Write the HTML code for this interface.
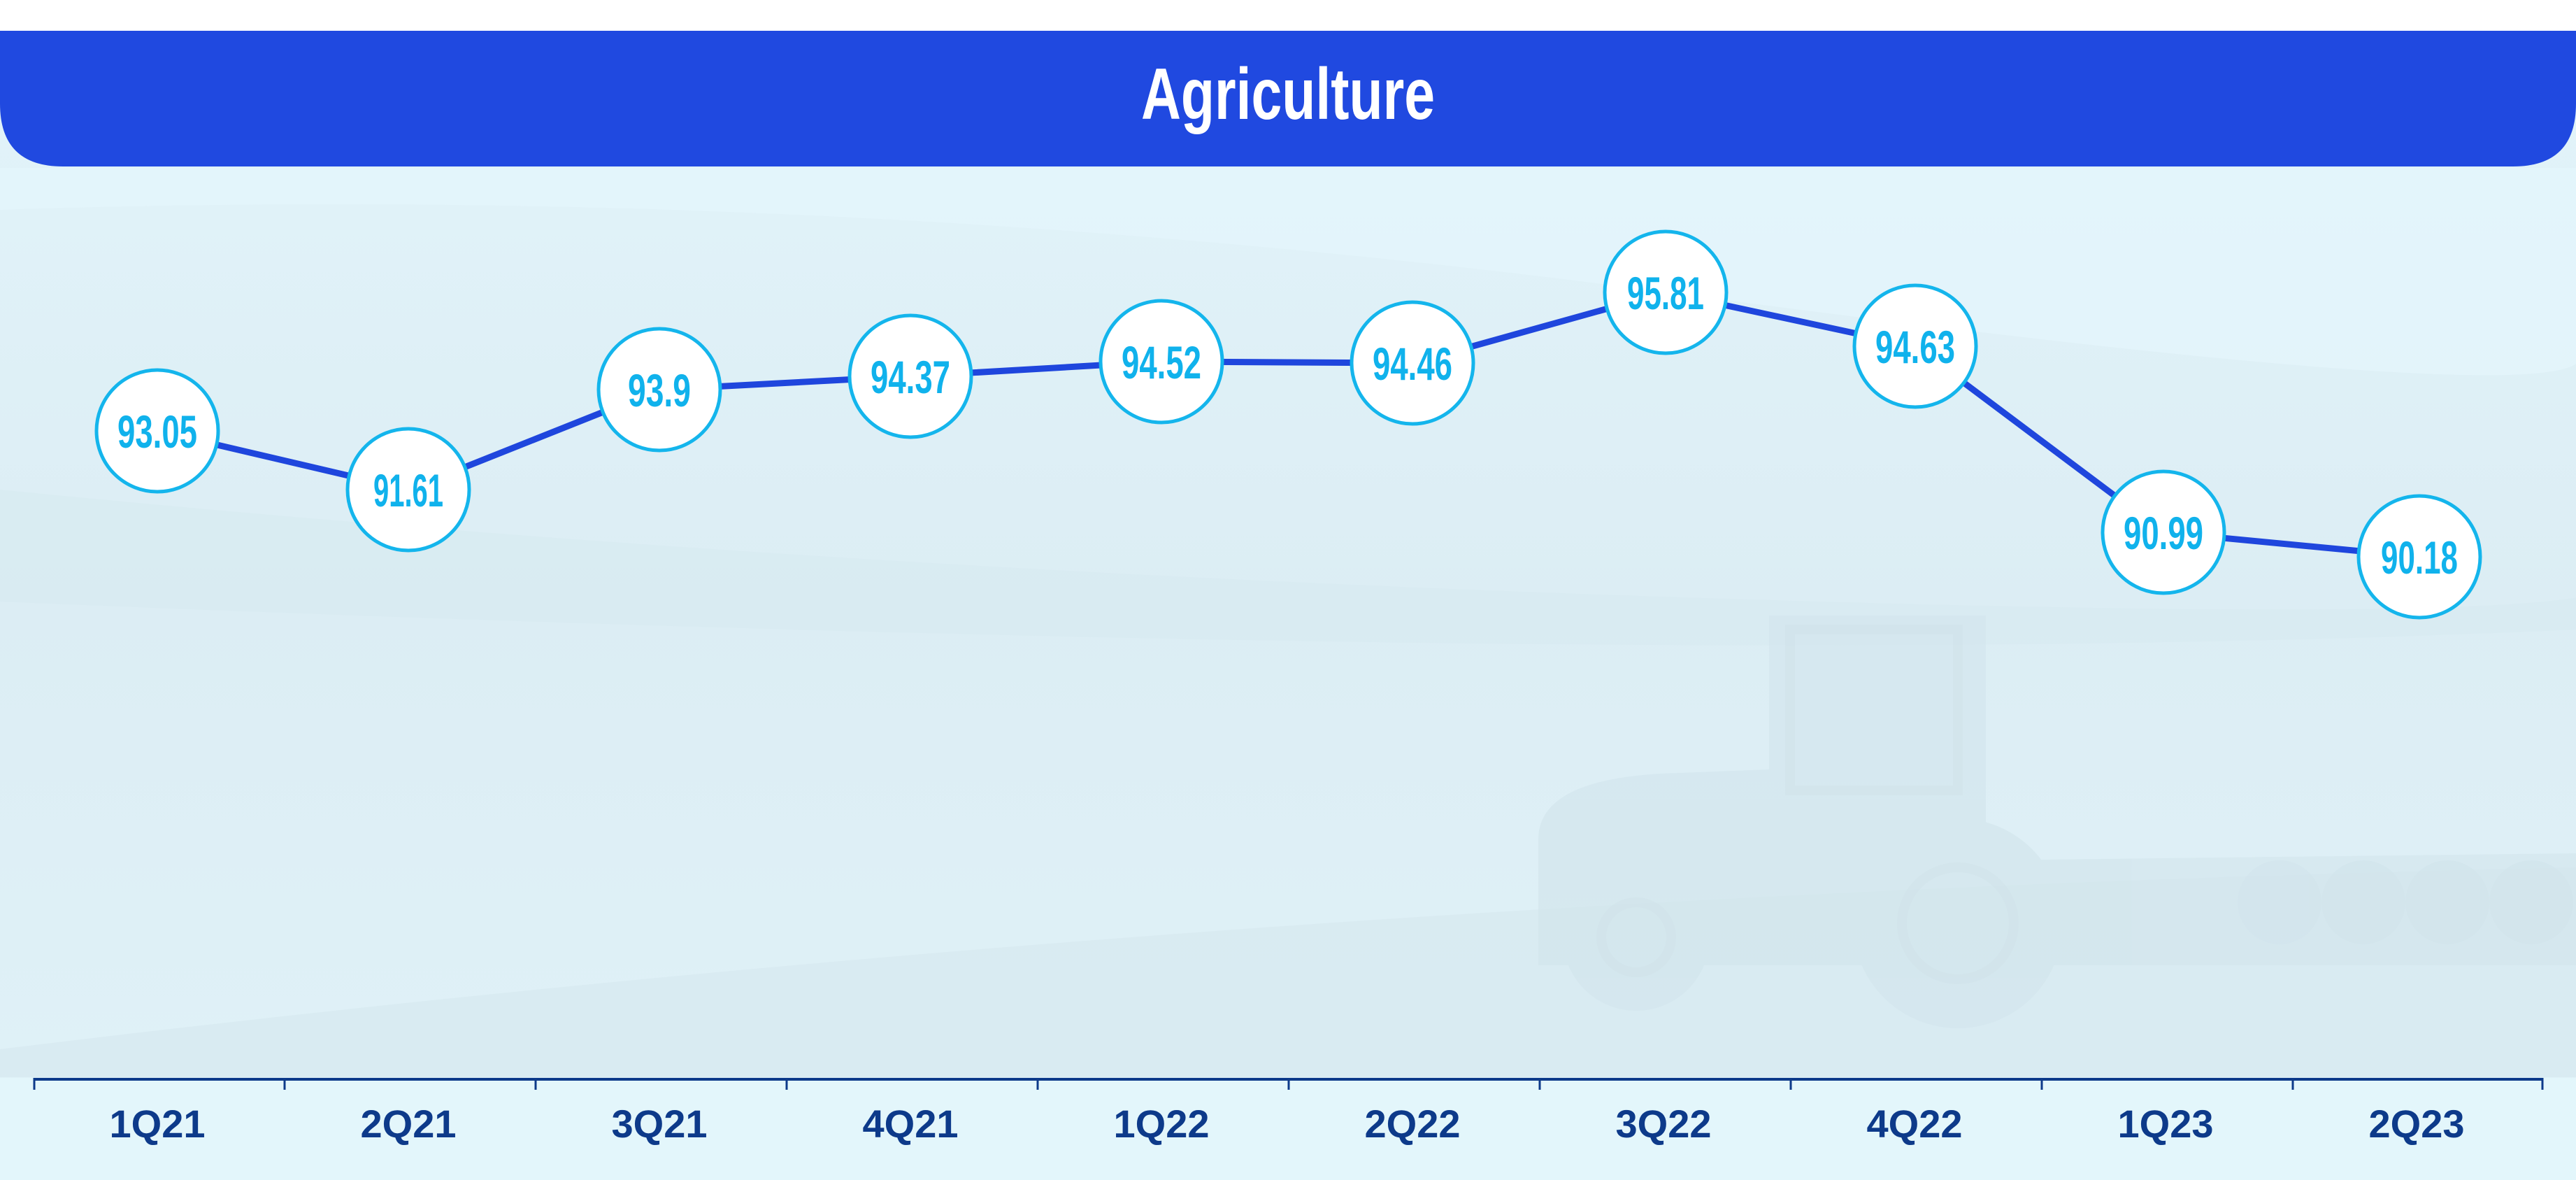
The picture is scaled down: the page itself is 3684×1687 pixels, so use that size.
<!DOCTYPE html>
<html><head><meta charset="utf-8"><style>
html,body{margin:0;padding:0;background:#fff;}
svg{display:block;}
</style></head><body>
<svg width="3684" height="1687" viewBox="0 0 3684 1687" xmlns="http://www.w3.org/2000/svg">
<defs>
<linearGradient id="bg" x1="0" y1="0" x2="0" y2="1">
<stop offset="0" stop-color="#e2f4fa"/>
<stop offset="0.5" stop-color="#dcedf4"/>
<stop offset="1" stop-color="#e0f2f8"/>
</linearGradient>
</defs>
<rect x="0" y="44" width="3684" height="1643" fill="url(#bg)"/>
<path d="M0 300 Q1200 260 2400 420 T3684 520 L3684 240 L0 240 Z" fill="#e4f5fb" opacity="0.8"/>
<path d="M0 700 Q1200 820 2600 860 T3684 800 L3684 900 Q2400 960 0 860 Z" fill="#d6e9f0" opacity="0.5"/>
<path d="M0 1540 L0 1500 Q1800 1280 3684 1240 L3684 1540 Z" fill="#d5e7ee" opacity="0.6"/>
<g fill="#d2e5ec" opacity="0.6">
<path d="M2200 1200 Q2200 1110 2400 1105 L2530 1100 L2530 880 L2840 880 L2840 1230 L3684 1220 L3684 1380 L2200 1380 Z"/>
<circle cx="2800" cy="1320" r="150"/>
<circle cx="2340" cy="1340" r="105"/>
</g>
<g fill="none" stroke="#d0e3ea" stroke-width="14" opacity="0.6">
<rect x="2560" y="900" width="240" height="230"/>
<circle cx="2800" cy="1320" r="80"/>
<circle cx="2340" cy="1340" r="50"/>
</g>
<g fill="#d2e5ec" opacity="0.6">
<circle cx="3260" cy="1290" r="60"/><circle cx="3380" cy="1290" r="60"/><circle cx="3500" cy="1290" r="60"/><circle cx="3620" cy="1290" r="60"/>
</g>
<rect x="0" y="1541" width="3684" height="146" fill="#e3f6fb"/>
<path d="M0 44 H3684 V148 Q3684 238 3594 238 H90 Q0 238 0 148 Z" fill="#2049e0"/>
<text x="1842" y="170" text-anchor="middle" font-family="Liberation Sans Narrow, Liberation Sans, sans-serif" font-weight="bold" font-size="104" fill="#fff" textLength="420" lengthAdjust="spacingAndGlyphs">Agriculture</text>
<line x1="49" y1="1543" x2="3636" y2="1543" stroke="#0d3a8a" stroke-width="4"/>
<g stroke="#0d3a8a" stroke-width="3">
<line x1="49" y1="1541" x2="49" y2="1558"/><line x1="407" y1="1541" x2="407" y2="1558"/><line x1="766" y1="1541" x2="766" y2="1558"/><line x1="1125" y1="1541" x2="1125" y2="1558"/><line x1="1484" y1="1541" x2="1484" y2="1558"/><line x1="1843" y1="1541" x2="1843" y2="1558"/><line x1="2202" y1="1541" x2="2202" y2="1558"/><line x1="2561" y1="1541" x2="2561" y2="1558"/><line x1="2920" y1="1541" x2="2920" y2="1558"/><line x1="3279" y1="1541" x2="3279" y2="1558"/><line x1="3636" y1="1541" x2="3636" y2="1558"/>
</g>
<g font-family="Liberation Sans, sans-serif" font-weight="bold" font-size="56" fill="#0d3a8a" text-anchor="middle">
<text x="225" y="1626">1Q21</text><text x="584" y="1626">2Q21</text><text x="943" y="1626">3Q21</text><text x="1302" y="1626">4Q21</text><text x="1661" y="1626">1Q22</text><text x="2020" y="1626">2Q22</text><text x="2379" y="1626">3Q22</text><text x="2738" y="1626">4Q22</text><text x="3097" y="1626">1Q23</text><text x="3456" y="1626">2Q23</text>
</g>
<polyline points="225,616 584,700 943,557 1302,538 1661,517 2020,519 2382,418 2739,495 3094,761 3460,796" fill="none" stroke="#1f46dd" stroke-width="9"/>
<g fill="#fff" stroke="#14b5ec" stroke-width="5">
<circle cx="225" cy="616" r="87"/><circle cx="584" cy="700" r="87"/><circle cx="943" cy="557" r="87"/><circle cx="1302" cy="538" r="87"/><circle cx="1661" cy="517" r="87"/><circle cx="2020" cy="519" r="87"/><circle cx="2382" cy="418" r="87"/><circle cx="2739" cy="495" r="87"/><circle cx="3094" cy="761" r="87"/><circle cx="3460" cy="796" r="87"/>
</g>
<g font-family="Liberation Sans Narrow, Liberation Sans, sans-serif" font-weight="bold" font-size="66" fill="#10b2ec" text-anchor="middle">
<text x="225" y="640" textLength="114" lengthAdjust="spacingAndGlyphs">93.05</text>
<text x="584" y="724" textLength="100" lengthAdjust="spacingAndGlyphs">91.61</text>
<text x="943" y="581" textLength="90" lengthAdjust="spacingAndGlyphs">93.9</text>
<text x="1302" y="562" textLength="114" lengthAdjust="spacingAndGlyphs">94.37</text>
<text x="1661" y="541" textLength="114" lengthAdjust="spacingAndGlyphs">94.52</text>
<text x="2020" y="543" textLength="114" lengthAdjust="spacingAndGlyphs">94.46</text>
<text x="2382" y="442" textLength="110" lengthAdjust="spacingAndGlyphs">95.81</text>
<text x="2739" y="519" textLength="114" lengthAdjust="spacingAndGlyphs">94.63</text>
<text x="3094" y="785" textLength="114" lengthAdjust="spacingAndGlyphs">90.99</text>
<text x="3460" y="820" textLength="110" lengthAdjust="spacingAndGlyphs">90.18</text>
</g>
</svg>
</body></html>
